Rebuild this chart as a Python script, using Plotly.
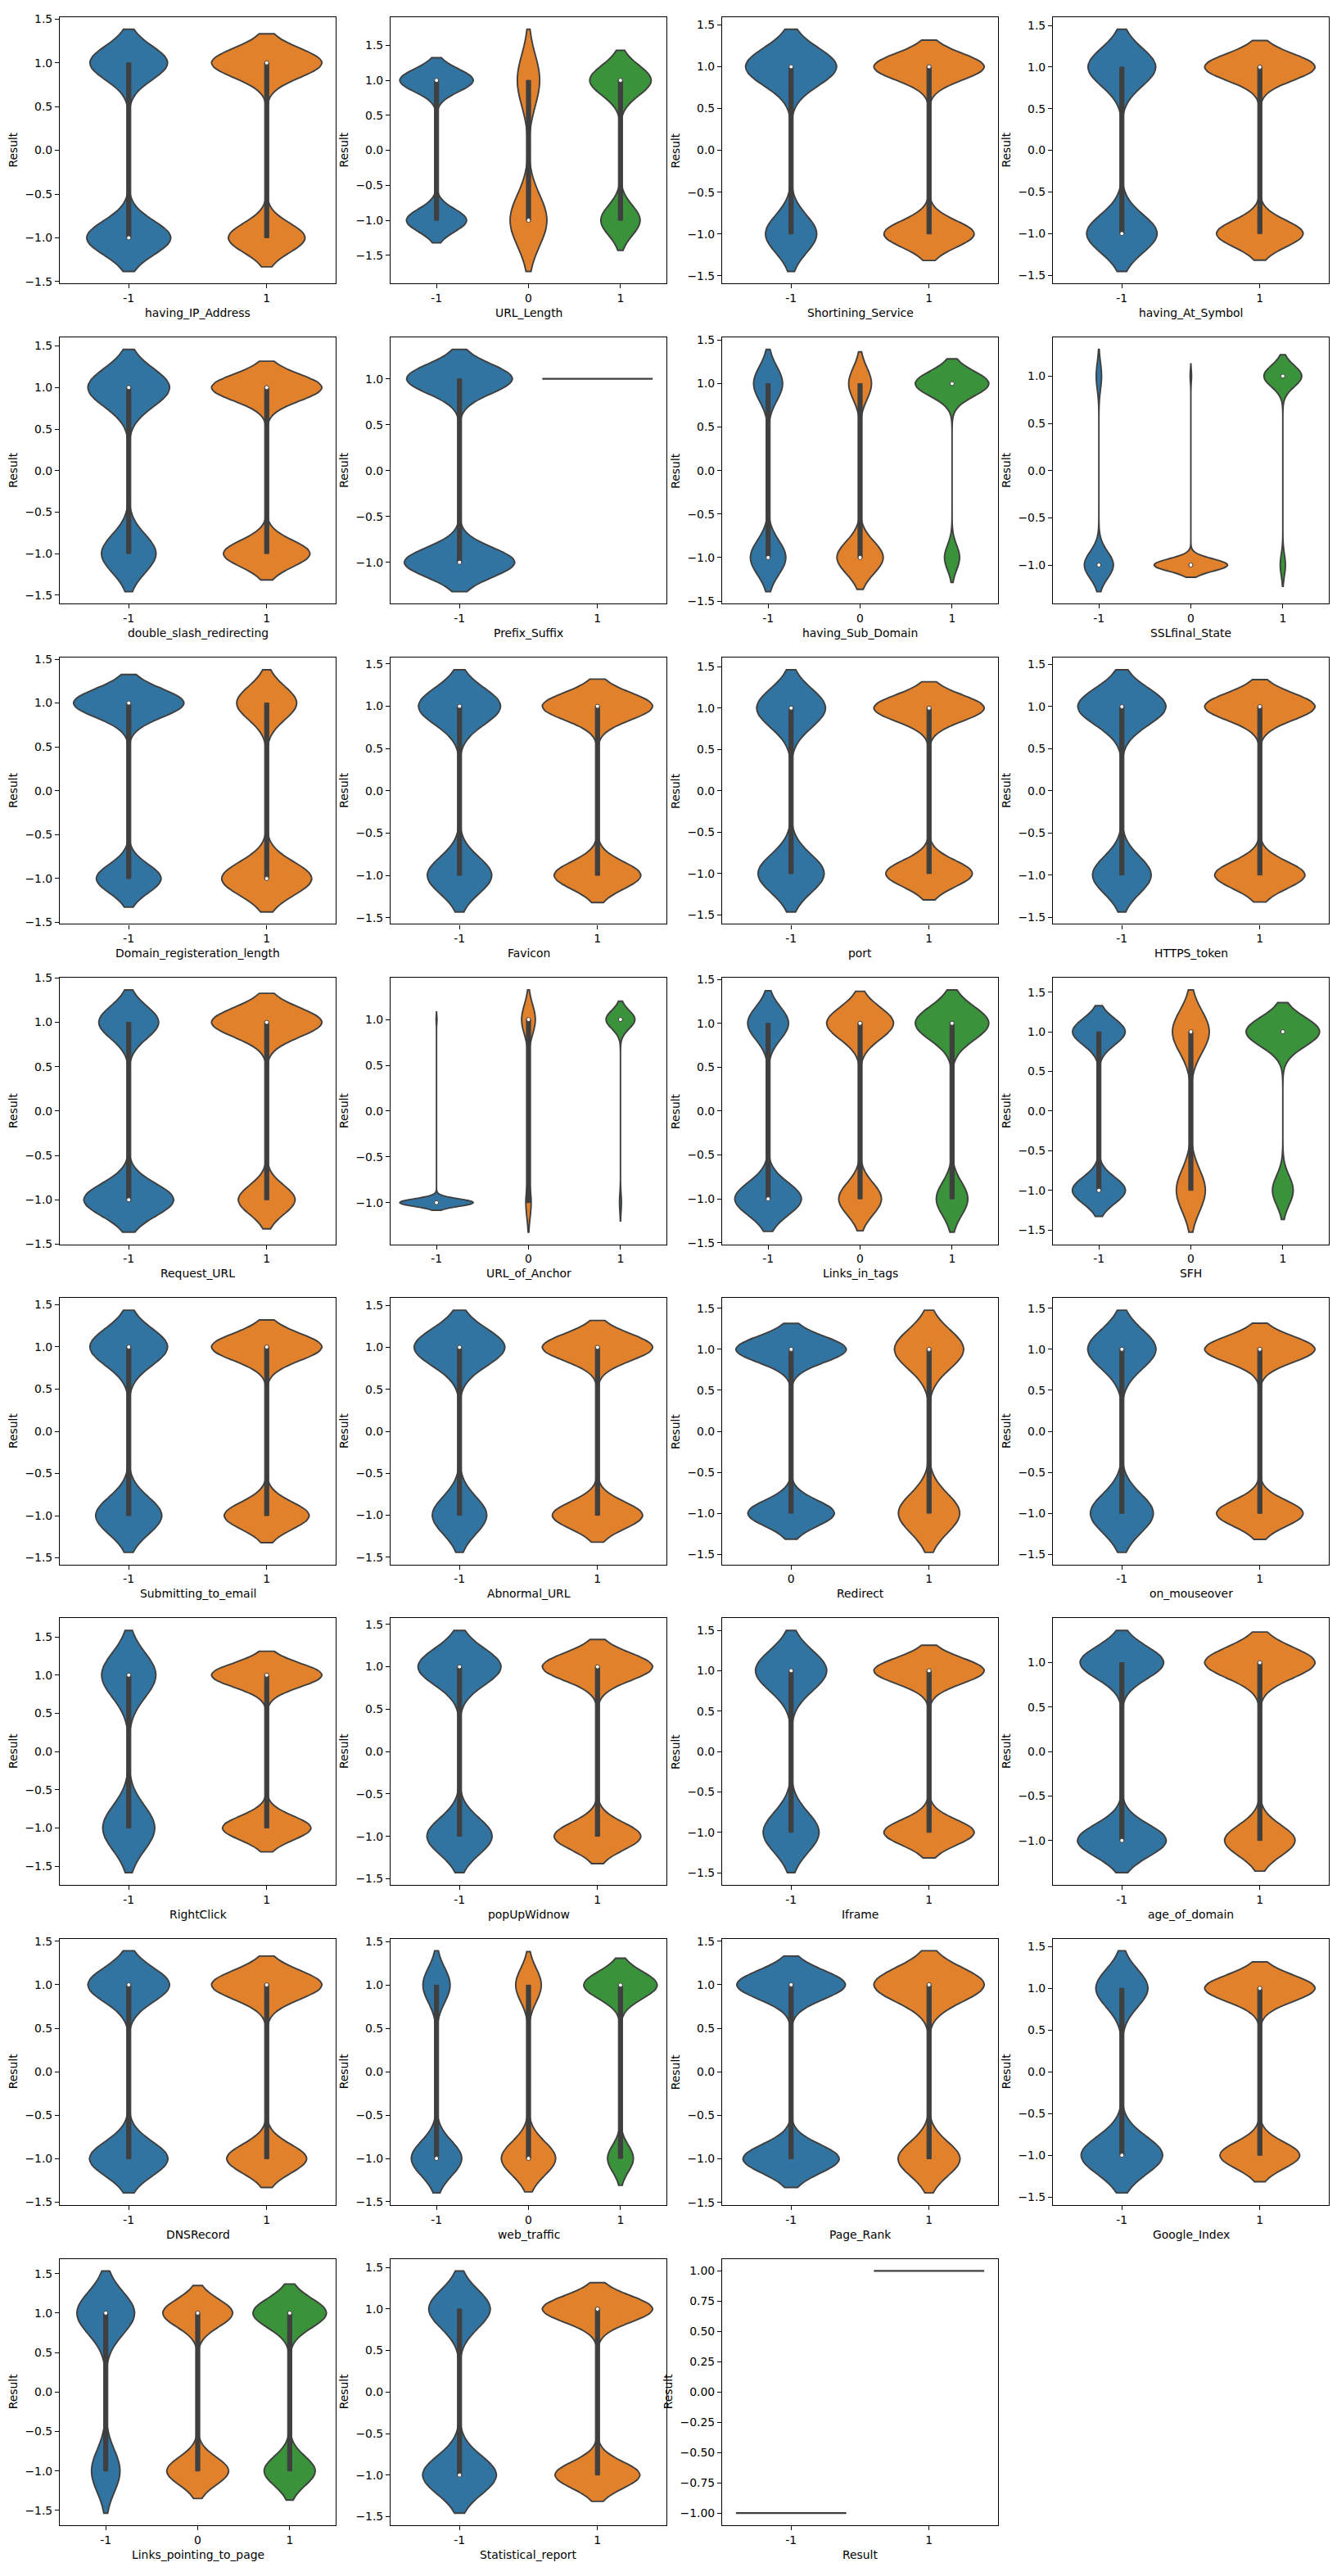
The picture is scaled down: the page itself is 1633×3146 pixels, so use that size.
import numpy as np
import plotly.graph_objects as go

# ---------------- data ----------------
FEATURES = [
    "having_IP_Address", "URL_Length", "Shortining_Service", "having_At_Symbol",
    "double_slash_redirecting", "Prefix_Suffix", "having_Sub_Domain", "SSLfinal_State",
    "Domain_registeration_length", "Favicon", "port", "HTTPS_token",
    "Request_URL", "URL_of_Anchor", "Links_in_tags", "SFH",
    "Submitting_to_email", "Abnormal_URL", "Redirect", "on_mouseover",
    "RightClick", "popUpWidnow", "Iframe", "age_of_domain",
    "DNSRecord", "web_traffic", "Page_Rank", "Google_Index",
    "Links_pointing_to_page", "Statistical_report", "Result",
]

CATEGORIES = [
    [-1, 1], [-1, 0, 1], [-1, 1], [-1, 1],
    [-1, 1], [-1, 1], [-1, 0, 1], [-1, 0, 1],
    [-1, 1], [-1, 1], [-1, 1], [-1, 1],
    [-1, 1], [-1, 0, 1], [-1, 0, 1], [-1, 0, 1],
    [-1, 1], [-1, 1], [0, 1], [-1, 1],
    [-1, 1], [-1, 1], [-1, 1], [-1, 1],
    [-1, 1], [-1, 0, 1], [-1, 1], [-1, 1],
    [-1, 0, 1], [-1, 1], [-1, 1],
]

# number of rows with Result = -1 for each category
NEG_COUNTS = [
    [1972, 2977], [4032, 84, 764], [520, 4325], [844, 4136],
    [572, 4235], [4898, 0], [1850, 2427, 692], [3006, 1146, 760],
    [2734, 2200], [903, 3961], [736, 4203], [718, 4167],
    [2697, 2230], [3246, 1494, 146], [2453, 1735, 795], [4237, 335, 408],
    [926, 3933], [611, 4242], [4301, 601], [631, 4286],
    [233, 4708], [940, 3924], [445, 4519], [2672, 2288],
    [1687, 3197], [1670, 1805, 1516], [3854, 1027], [939, 3997],
    [181, 2893, 1784], [845, 4135], [4898, 0],
]

# number of rows with Result = 1 for each category
POS_COUNTS = [
    [1821, 4285], [4928, 51, 1196], [924, 5286], [811, 5264],
    [857, 5391], [4692, 1465], [1513, 1195, 3378], [551, 21, 5571],
    [4655, 1466], [1150, 5041], [766, 5350], [1078, 5092],
    [1798, 4330], [36, 3843, 2290], [1503, 2714, 1855], [4203, 426, 1446],
    [1088, 5108], [1018, 5184], [5475, 678], [684, 5454],
    [243, 5871], [1197, 4994], [567, 5524], [2517, 3578],
    [1756, 4415], [899, 850, 4315], [4347, 1827], [600, 5519],
    [367, 3263, 2567], [705, 5370], [0, 6157],
]

# ---------------- style / layout ----------------
W, H = 1633, 3146
COL_X0 = [73, 477, 882, 1286]
AX_W = 337
ROW_Y0 = [13 + 393.1 * r for r in range(8)]
AX_H = 327
COLORS = ["#3274a1", "#e1812c", "#3a923a"]
GRAY = "#3f3f3f"
FONT = "DejaVu Sans"
FS = 13.9
VIOLIN_W = 0.8


def kde_peak(vals, bw):
    """Peak of the Gaussian KDE (used for seaborn-like 'area' scaling)."""
    grid = np.linspace(vals.min() - 2 * bw, vals.max() + 2 * bw, 400)
    uv, cnt = np.unique(vals, return_counts=True)
    dens = np.zeros_like(grid)
    for u, m in zip(uv, cnt):
        dens += m * np.exp(-0.5 * ((grid - u) / bw) ** 2)
    dens /= len(vals) * bw * np.sqrt(2 * np.pi)
    return dens.max()


fig = go.Figure()
layout = dict(
    width=W, height=H,
    margin=dict(l=0, r=0, t=0, b=0),
    paper_bgcolor="white", plot_bgcolor="white",
    showlegend=False,
    violinmode="overlay", violingap=0,
    font=dict(family=FONT, size=FS, color="black"),
)
annotations = []

for j, feat in enumerate(FEATURES):
    r, c = divmod(j, 4)
    x0 = COL_X0[c]
    y0 = ROW_Y0[r]
    xa, ya = f"x{j + 1}", f"y{j + 1}"
    cats = CATEGORIES[j]
    k = len(cats)
    unit_px = AX_W / k
    lo, hi = np.inf, -np.inf

    groups = []
    for i, cat in enumerate(cats):
        vals = np.concatenate([
            np.full(NEG_COUNTS[j][i], -1, dtype=np.int8),
            np.full(POS_COUNTS[j][i], 1, dtype=np.int8),
        ])
        n = len(vals)
        std = vals.astype(float).std(ddof=1) if n > 1 else 0.0
        if std == 0:
            groups.append((i, vals, None, None))
        else:
            bw = std * n ** (-0.2)
            groups.append((i, vals, bw, kde_peak(vals, bw)))
    peaks = [g[3] for g in groups if g[3] is not None]
    max_peak = max(peaks) if peaks else 1.0

    med_x, med_y = [], []
    for i, vals, bw, peak in groups:
        if bw is None:
            v = float(vals[0])
            fig.add_trace(go.Scatter(
                x=[i - VIOLIN_W / 2, i + VIOLIN_W / 2], y=[v, v], mode="lines",
                line=dict(color=GRAY, width=2.2), xaxis=xa, yaxis=ya,
                hoverinfo="skip", showlegend=False))
            lo, hi = min(lo, v), max(hi, v)
            continue
        lo = min(lo, vals.min() - 2 * bw)
        hi = max(hi, vals.max() + 2 * bw)
        w_i = VIOLIN_W * peak / max_peak
        box_frac = 5.2 / (w_i * unit_px)
        fig.add_trace(go.Violin(
            y=vals, x0=i, xaxis=xa, yaxis=ya,
            width=w_i, bandwidth=bw, spanmode="soft",
            scalegroup=f"g{j}_{i}", scalemode="width",
            fillcolor=COLORS[i % 3], opacity=1,
            line=dict(color=GRAY, width=1.9),
            points=False,
            box=dict(visible=True, width=box_frac, fillcolor=GRAY,
                     line=dict(color=GRAY, width=1)),
            meanline=dict(visible=False),
            hoverinfo="skip", showlegend=False,
        ))
        med_x.append(i)
        med_y.append(float(np.median(vals)))
    if med_x:
        fig.add_trace(go.Scatter(
            x=med_x, y=med_y, mode="markers", xaxis=xa, yaxis=ya,
            marker=dict(color="white", size=5, line=dict(color=GRAY, width=1)),
            hoverinfo="skip", showlegend=False))

    span = hi - lo
    yr = [lo - 0.05 * span, hi + 0.05 * span]
    if span < 2.5:
        dtick, fmt, tpad = 0.25, ".2f", 66
    else:
        dtick, fmt, tpad = 0.5, ".1f", 57

    axis_common = dict(
        showline=True, linecolor="black", linewidth=1.1, mirror=True,
        ticks="outside", ticklen=5, tickwidth=1.1, tickcolor="black",
        showgrid=False, zeroline=False,
        tickfont=dict(family=FONT, size=FS, color="black"),
    )
    layout[f"xaxis{j + 1}"] = dict(
        axis_common,
        domain=[x0 / W, (x0 + AX_W) / W], anchor=ya,
        range=[-0.5, k - 0.5], tickmode="array",
        tickvals=list(range(k)), ticktext=[str(cv) for cv in cats],
    )
    layout[f"yaxis{j + 1}"] = dict(
        axis_common,
        domain=[1 - (y0 + AX_H) / H, 1 - y0 / H], anchor=xa,
        range=yr, tickmode="linear", tick0=0, dtick=dtick, tickformat=fmt,
    )
    annotations.append(dict(
        text=feat, xref="paper", yref="paper",
        x=(x0 + AX_W / 2) / W, y=1 - (y0 + AX_H + 36) / H,
        xanchor="center", yanchor="middle", showarrow=False,
        font=dict(family=FONT, size=FS, color="black")))
    annotations.append(dict(
        text="Result", xref="paper", yref="paper",
        x=(x0 - tpad) / W, y=1 - (y0 + AX_H / 2) / H,
        xanchor="center", yanchor="middle", textangle=-90, showarrow=False,
        font=dict(family=FONT, size=FS, color="black")))

layout["annotations"] = annotations
fig.update_layout(**layout)
fig.write_html("out.html")
